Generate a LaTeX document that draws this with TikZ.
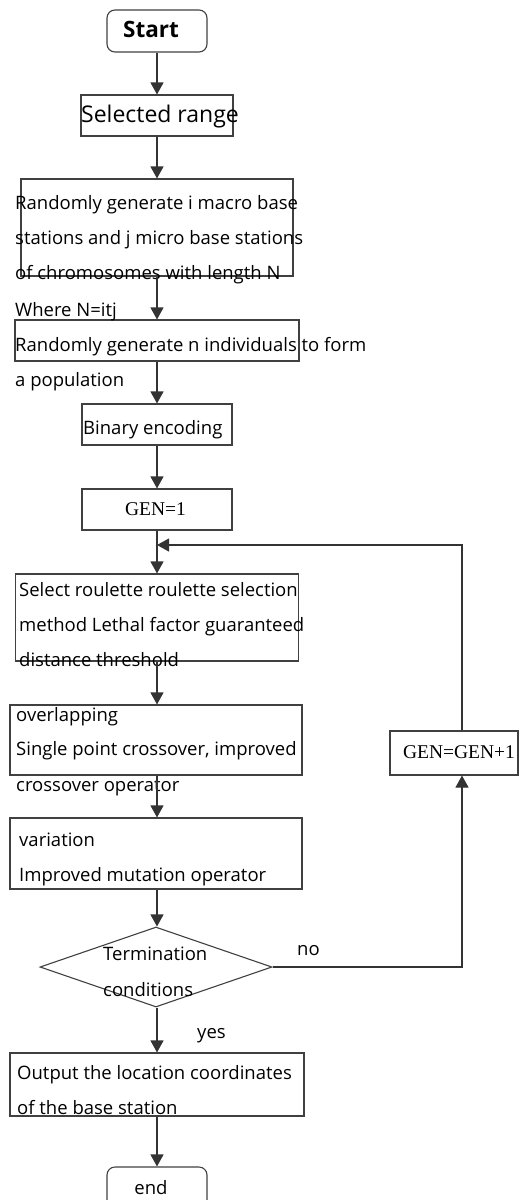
\documentclass[tikz,border=0pt]{standalone}
\usepackage{fontspec}
\setmainfont{Open Sans}
\newfontfamily\seriffont{Liberation Serif}
\usetikzlibrary{arrows.meta,shapes.geometric}
\tikzset{
  box/.style={draw=black!75, line width=1.1pt, inner sep=0pt, text width=0pt},
  rbox/.style={box, rounded corners=8pt},
  arr/.style={draw=black!80, line width=1.1pt, -{Triangle[width=13pt,length=12pt]}},
  txt/.style={inner sep=0pt, anchor=base west, font=\fontsize{18.5}{20}\selectfont, text=black},
  ctxt/.style={txt, anchor=base},
  stxt/.style={inner sep=0pt, anchor=base, font=\seriffont\fontsize{19.5}{20}\selectfont, text=black},
}
\begin{document}
\begin{tikzpicture}[x=1pt,y=-1pt]
\useasboundingbox (0,0) rectangle (525,1200);
\clip (0,0) rectangle (525,1200);
% boxes
\node[rbox, minimum width=100pt, minimum height=42pt] (start) at (157,31) {};
\node[box, minimum width=152pt, minimum height=41pt] (range) at (157,115.5) {};
\node[box, minimum width=272pt, minimum height=97pt] (chrom) at (157,227.5) {};
\node[box, minimum width=284pt, minimum height=41pt] (pop) at (157,340.5) {};
\node[box, minimum width=150pt, minimum height=41pt] (bin) at (157,424.5) {};
\node[box, minimum width=150pt, minimum height=41pt] (gen1) at (157,509.5) {};
\node[box, minimum width=283pt, minimum height=87pt] (sel) at (157,617.5) {};
\node[box, minimum width=292pt, minimum height=70pt] (cross) at (156,740) {};
\node[box, minimum width=292pt, minimum height=71pt] (mut) at (156,853.5) {};
\node[diamond, draw=black!75, line width=1.1pt, inner sep=0pt, minimum width=232pt, minimum height=80pt] (dec) at (156,967) {};
\node[box, minimum width=294pt, minimum height=63pt] (out) at (157,1084.5) {};
\node[rbox, minimum width=100pt, minimum height=42pt] (end) at (157,1188) {};
\node[box, minimum width=128pt, minimum height=44pt] (gen2) at (454,753) {};
% texts
\node[ctxt, font=\bfseries\fontsize{22.5}{24}\selectfont] (tstart) at (151,37.3) {Start};
\node[txt, font=\fontsize{23}{24}\selectfont] (trange) at (81,122.7) {Selected range};
\node[txt] (t1) at (15,209) {Randomly generate i macro base};
\node[txt] (t2) at (15,244) {stations and j micro base stations};
\node[txt] (t3) at (15,279.3) {of chromosomes with length N};
\node[txt] (t4) at (15,316) {Where N=itj};
\node[txt] (t5) at (15,351.7) {Randomly generate n individuals to form};
\node[txt] (t6) at (15,386.7) {a population};
\node[txt] (tbin) at (83,434.3) {Binary encoding};
\node[stxt] (tgen1) at (155.5,515) {GEN=1};
\node[txt] (t7) at (19,596.7) {Select roulette roulette selection};
\node[txt] (t8) at (19,631.7) {method Lethal factor guaranteed};
\node[txt] (t9) at (19,666) {distance threshold};
\node[txt] (t10) at (16,721.7) {overlapping};
\node[txt] (t11) at (16,755) {Single point crossover, improved};
\node[txt] (t12) at (16,791) {crossover operator};
\node[txt] (t13) at (19,846.7) {variation};
\node[txt] (t14) at (19,881.7) {Improved mutation operator};
\node[txt] (t15) at (103,960) {Termination};
\node[txt] (t16) at (103,996) {conditions};
\node[txt] (tno) at (297,955) {no};
\node[txt] (tyes) at (197,1038) {yes};
\node[txt] (t17) at (17,1079) {Output the location coordinates};
\node[txt] (t18) at (17,1114) {of the base station};
\node[ctxt] (tend) at (151,1194) {end};
\node[stxt] (tgen2) at (459,758.3) {GEN=GEN+1};
% connectors
\coordinate (c1) at (462,967);
\coordinate (c2) at (462,545);
\coordinate (j) at (157,545);
\draw[arr] (start.south) -- (range.north);
\draw[arr] (range.south) -- (chrom.north);
\draw[arr] (chrom.south) -- (pop.north);
\draw[arr] (pop.south) -- (bin.north);
\draw[arr] (bin.south) -- (gen1.north);
\draw[arr] (gen1.south) -- (sel.north);
\draw[arr] (sel.south) -- (sel.south |- cross.north);
\draw[arr] (sel.south |- cross.south) -- (sel.south |- mut.north);
\draw[arr] (sel.south |- mut.south) -- (sel.south |- dec.north);
\draw[arr] (sel.south |- dec.south) -- (out.north);
\draw[arr] (out.south) -- (end.north);
\draw[arr] (dec.east) -- (c1) -- (c1 |- gen2.south);
\draw[arr] (c2 |- gen2.north) -- (c2) -- (j);
\end{tikzpicture}
\end{document}
